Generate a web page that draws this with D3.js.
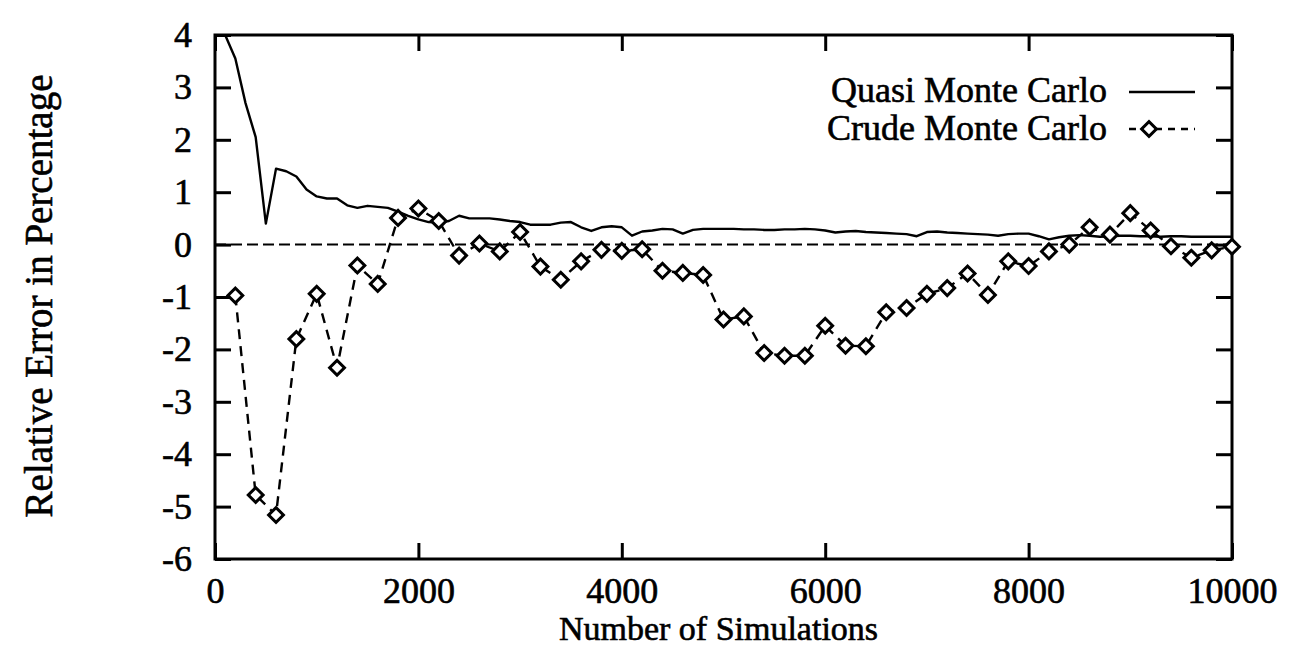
<!DOCTYPE html>
<html>
<head>
<meta charset="utf-8">
<script src="https://cdn.jsdelivr.net/npm/d3@7"></script>
<style>
  body { margin: 0; background: #fff; }
  svg { display: block; }
  text { font-family: "Liberation Serif", "Times New Roman", serif; fill: #000; stroke: #000; stroke-width: 0.6px; }
</style>
</head>
<body>
<svg width="1306" height="649"></svg>
<script>
// x tick values and y tick values
const xTicks = [0, 2000, 4000, 6000, 8000, 10000];
const yTicks = [-6, -5, -4, -3, -2, -1, 0, 1, 2, 3, 4];

// Quasi Monte Carlo, read every 100 simulations
const quasiX = [
    100, 200, 300, 400, 500, 600, 700, 800, 900, 1000,
    1100, 1200, 1300, 1400, 1500, 1600, 1700, 1800, 1900, 2000,
    2100, 2200, 2300, 2400, 2500, 2600, 2700, 2800, 2900, 3000,
    3100, 3200, 3300, 3400, 3500, 3600, 3700, 3800, 3900, 4000,
    4100, 4200, 4300, 4400, 4500, 4600, 4700, 4800, 4900, 5000,
    5100, 5200, 5300, 5400, 5500, 5600, 5700, 5800, 5900, 6000,
    6100, 6200, 6300, 6400, 6500, 6600, 6700, 6800, 6900, 7000,
    7100, 7200, 7300, 7400, 7500, 7600, 7700, 7800, 7900, 8000,
    8100, 8200, 8300, 8400, 8500, 8600, 8700, 8800, 8900, 9000,
    9100, 9200, 9300, 9400, 9500, 9600, 9700, 9800, 9900, 10000
];
const quasiY = [
    4.0, 3.55, 2.7, 2.05, 0.4, 1.45, 1.4, 1.3, 1.05, 0.92,
    0.88, 0.88, 0.75, 0.7, 0.74, 0.72, 0.7, 0.63, 0.55, 0.48,
    0.43, 0.42, 0.45, 0.55, 0.5, 0.5, 0.5, 0.48, 0.45, 0.43,
    0.38, 0.38, 0.38, 0.42, 0.43, 0.33, 0.26, 0.33, 0.35, 0.33,
    0.17, 0.25, 0.27, 0.3, 0.29, 0.21, 0.28, 0.3, 0.3, 0.3,
    0.3, 0.29, 0.29, 0.28, 0.28, 0.29, 0.29, 0.3, 0.29, 0.27,
    0.23, 0.25, 0.26, 0.24, 0.23, 0.22, 0.21, 0.2, 0.16, 0.24,
    0.25, 0.23, 0.22, 0.21, 0.2, 0.19, 0.17, 0.2, 0.21, 0.21,
    0.16, 0.1, 0.14, 0.17, 0.18, 0.17, 0.15, 0.16, 0.17, 0.17,
    0.16, 0.16, 0.15, 0.16, 0.16, 0.15, 0.15, 0.15, 0.15, 0.15
];

// Crude Monte Carlo, every 200 simulations
const crudeX = [
    200, 400, 600, 800, 1000, 1200, 1400, 1600, 1800, 2000,
    2200, 2400, 2600, 2800, 3000, 3200, 3400, 3600, 3800, 4000,
    4200, 4400, 4600, 4800, 5000, 5200, 5400, 5600, 5800, 6000,
    6200, 6400, 6600, 6800, 7000, 7200, 7400, 7600, 7800, 8000,
    8200, 8400, 8600, 8800, 9000, 9200, 9400, 9600, 9800, 10000
];
const crudeY = [
    -0.97, -4.78, -5.16, -1.8, -0.94, -2.35, -0.4, -0.75, 0.51, 0.69,
    0.45, -0.21, 0.02, -0.13, 0.24, -0.42, -0.67, -0.32, -0.1, -0.12,
    -0.09, -0.5, -0.54, -0.58, -1.43, -1.37, -2.07, -2.12, -2.12, -1.55,
    -1.93, -1.94, -1.29, -1.21, -0.94, -0.83, -0.55, -0.96, -0.32, -0.41,
    -0.13, 0.0, 0.33, 0.19, 0.6, 0.27, -0.03, -0.25, -0.11, -0.04
];

const seriesNames = ['Quasi Monte Carlo', 'Crude Monte Carlo'];

const LEFT = 215, RIGHT = 1232, TOP = 35, BOTTOM = 559;
const TICK = 16, FONT = 36;
const INK = '#000';

const svg = d3.select('svg');

const x = d3.scaleLinear().domain([0, 10000]).range([LEFT, RIGHT]);
const y = d3.scaleLinear().domain([-6, 4]).range([BOTTOM, TOP]);

// plain hyphen instead of the unicode minus
const fmt = d => String(d);

// Оси: метки внутрь на всех четырех сторонах
function styleAxis(g) {
    g.select('.domain').remove();
    g.selectAll('.tick line').attr('stroke', INK).attr('stroke-width', 3);
    g.selectAll('.tick text')
        .style('font-family', '"Liberation Serif", "Times New Roman", serif')
        .style('font-size', FONT + 'px')
        .attr('fill', INK);
}

svg.append('g')
    .attr('transform', `translate(0,${BOTTOM})`)
    .call(d3.axisBottom(x).tickValues(xTicks).tickSizeInner(-TICK).tickSizeOuter(0).tickPadding(18).tickFormat(fmt))
    .call(styleAxis);

svg.append('g')
    .attr('transform', `translate(0,${TOP})`)
    .call(d3.axisTop(x).tickValues(xTicks).tickSizeInner(-TICK).tickSizeOuter(0).tickFormat(''))
    .call(styleAxis);

svg.append('g')
    .attr('transform', `translate(${LEFT},0)`)
    .call(d3.axisLeft(y).tickValues(yTicks).tickSizeInner(-TICK).tickSizeOuter(0).tickPadding(23).tickFormat(fmt))
    .call(styleAxis);

svg.append('g')
    .attr('transform', `translate(${RIGHT},0)`)
    .call(d3.axisRight(y).tickValues(yTicks).tickSizeInner(-TICK).tickSizeOuter(0).tickFormat(''))
    .call(styleAxis);

// Рамка
svg.append('rect')
    .attr('x', LEFT)
    .attr('y', TOP)
    .attr('width', RIGHT - LEFT)
    .attr('height', BOTTOM - TOP)
    .attr('fill', 'none')
    .attr('stroke', INK)
    .attr('stroke-width', 3);

// Нулевая линия
svg.append('line')
    .attr('x1', x(0))
    .attr('y1', y(0))
    .attr('x2', x(10000))
    .attr('y2', y(0))
    .attr('stroke', INK)
    .attr('stroke-width', 2)
    .attr('stroke-dasharray', '11,5');

const line = d3.line().x(d => x(d[0])).y(d => y(d[1]));

const quasi = quasiX.map((v, i) => [v, quasiY[i]]);
const crude = crudeX.map((v, i) => [v, crudeY[i]]);

svg.append('path')
    .attr('d', line(quasi))
    .attr('fill', 'none')
    .attr('stroke', INK)
    .attr('stroke-width', 2.4)
    .attr('stroke-linejoin', 'round');

svg.append('path')
    .attr('d', line(crude))
    .attr('fill', 'none')
    .attr('stroke', INK)
    .attr('stroke-width', 2.4)
    .attr('stroke-dasharray', '10,7');

const diamond = d3.symbol().type(d3.symbolSquare).size(110);

svg.append('g')
    .selectAll('path')
    .data(crude)
    .join('path')
    .attr('d', diamond)
    .attr('transform', d => `translate(${x(d[0])},${y(d[1])}) rotate(45)`)
    .attr('fill', '#fff')
    .attr('stroke', INK)
    .attr('stroke-width', 3);

// Легенда
const legendRows = [102, 140];
seriesNames.forEach(function (name, i) {
    svg.append('text')
        .attr('x', 1107)
        .attr('y', legendRows[i])
        .attr('text-anchor', 'end')
        .style('font-size', FONT + 'px')
        .text(name);
});

svg.append('line')
    .attr('x1', 1129).attr('y1', 92)
    .attr('x2', 1195).attr('y2', 92)
    .attr('stroke', INK)
    .attr('stroke-width', 2.4);

svg.append('line')
    .attr('x1', 1129).attr('y1', 129)
    .attr('x2', 1195).attr('y2', 129)
    .attr('stroke', INK)
    .attr('stroke-width', 2.4)
    .attr('stroke-dasharray', '7,6');

svg.append('path')
    .attr('d', diamond)
    .attr('transform', 'translate(1149,129) rotate(45)')
    .attr('fill', '#fff')
    .attr('stroke', INK)
    .attr('stroke-width', 3);

// Подписи осей
svg.append('text')
    .attr('x', (LEFT + RIGHT) / 2 - 5)
    .attr('y', 640)
    .attr('text-anchor', 'middle')
    .style('font-size', '34px')
    .text('Number of Simulations');

svg.append('text')
    .attr('transform', 'translate(52,296) rotate(-90)')
    .attr('text-anchor', 'middle')
    .style('font-size', '39px')
    .text('Relative Error in Percentage');
</script>
</body>
</html>
